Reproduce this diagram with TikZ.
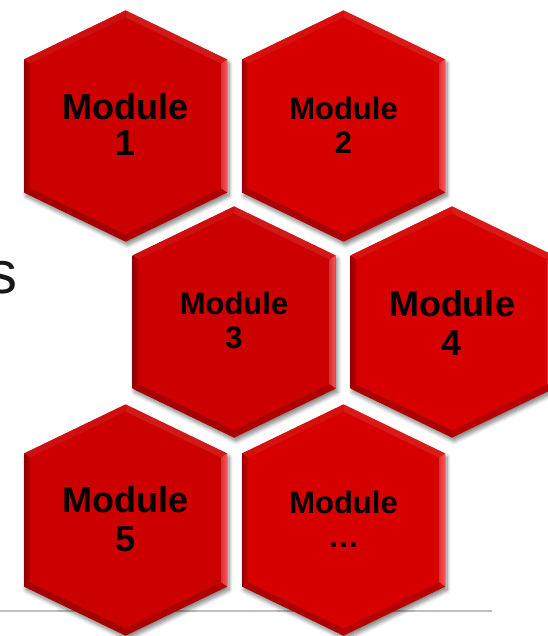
\documentclass[tikz,border=0pt]{standalone}
\usepackage{fontspec}
\setmainfont{Liberation Sans}
\usetikzlibrary{shadows.blur}
\definecolor{hexA}{RGB}{204,0,0}
\definecolor{hexB}{RGB}{214,0,0}
\definecolor{bevlight}{RGB}{255,85,85}
\definecolor{rulegray}{RGB}{191,191,191}
\definecolor{sidetext}{RGB}{25,25,25}
\tikzset{
  hexshadow/.style={blur shadow={shadow xshift=2pt, shadow yshift=-3.5pt, shadow blur radius=4pt, shadow blur steps=8, shadow opacity=50}},
  modtext/.style={align=center, inner sep=0pt, text=black},
  bigtext/.style={font=\fontsize{36}{36}\selectfont\bfseries},
  smalltext/.style={font=\fontsize{31}{34}\selectfont\bfseries},
  pics/hexmod/.style={code={
    \fill[hexshadow, fill=#1] (0,-115.5) -- (101.5,-66.5) -- (101.5,66.5) -- (0,115.5) -- (-101.5,66.5) -- (-101.5,-66.5) -- cycle;
    % top-right face
    \fill[#1!90!white] (0,-115.5) -- (101.5,-66.5) -- (95.5,-62.5) -- (0,-108.5) -- cycle;
    % top-left face
    \fill[#1!94!white] (0,-115.5) -- (-101.5,-66.5) -- (-95.5,-62.5) -- (0,-108.5) -- cycle;
    % right face
    \shade[left color=#1!80!white, right color=bevlight] (101.5,-66.5) -- (101.5,66.5) -- (95.5,62.5) -- (95.5,-62.5) -- cycle;
    % bottom-right face
    \fill[#1!85!black] (101.5,66.5) -- (0,115.5) -- (0,108.5) -- (95.5,62.5) -- cycle;
    % bottom-left face
    \fill[#1!80!black] (-101.5,66.5) -- (0,115.5) -- (0,108.5) -- (-95.5,62.5) -- cycle;
    % left face
    \shade[left color=#1!70!black, right color=#1!92!black] (-101.5,-66.5) -- (-101.5,66.5) -- (-95.5,62.5) -- (-95.5,-62.5) -- cycle;
  }}
}
\begin{document}
\begin{tikzpicture}[x=1pt, y=-1pt]
\useasboundingbox (0,0) rectangle (547,636);
% left over text from slide
\node[anchor=base west, inner sep=0pt, text=sidetext, font=\fontsize{60}{60}\selectfont] (stext) at (-13,293) {s};
% separator rule
\coordinate (ruleL) at (0,611);
\coordinate (ruleR) at (492,611);
\draw[rulegray, line width=1.1pt] (ruleL) -- (ruleR);
% hexagons
\pic at (125.5,126) {hexmod=hexA};
\pic at (343.5,126) {hexmod=hexB};
\pic at (234,322) {hexmod=hexA};
\pic at (452,322) {hexmod=hexB};
\pic at (125.5,520) {hexmod=hexA};
\pic at (343.5,520) {hexmod=hexB};
% labels
\node[modtext, bigtext] (m1) at (125.5,124) {Module\\1};
\node[modtext, smalltext] (m2) at (343.5,124.9) {Module\\2};
\node[modtext, smalltext] (m3) at (234,320.3) {Module\\3};
\node[modtext, font=\fontsize{36}{39}\selectfont\bfseries] (m4) at (452,322.6) {Module\\4};
\node[modtext, font=\fontsize{36}{39}\selectfont\bfseries] (m5) at (125.5,519.5) {Module\\5};
\node[modtext, smalltext] (m6) at (343.5,518.9) {Module\\…};
\end{tikzpicture}
\end{document}
